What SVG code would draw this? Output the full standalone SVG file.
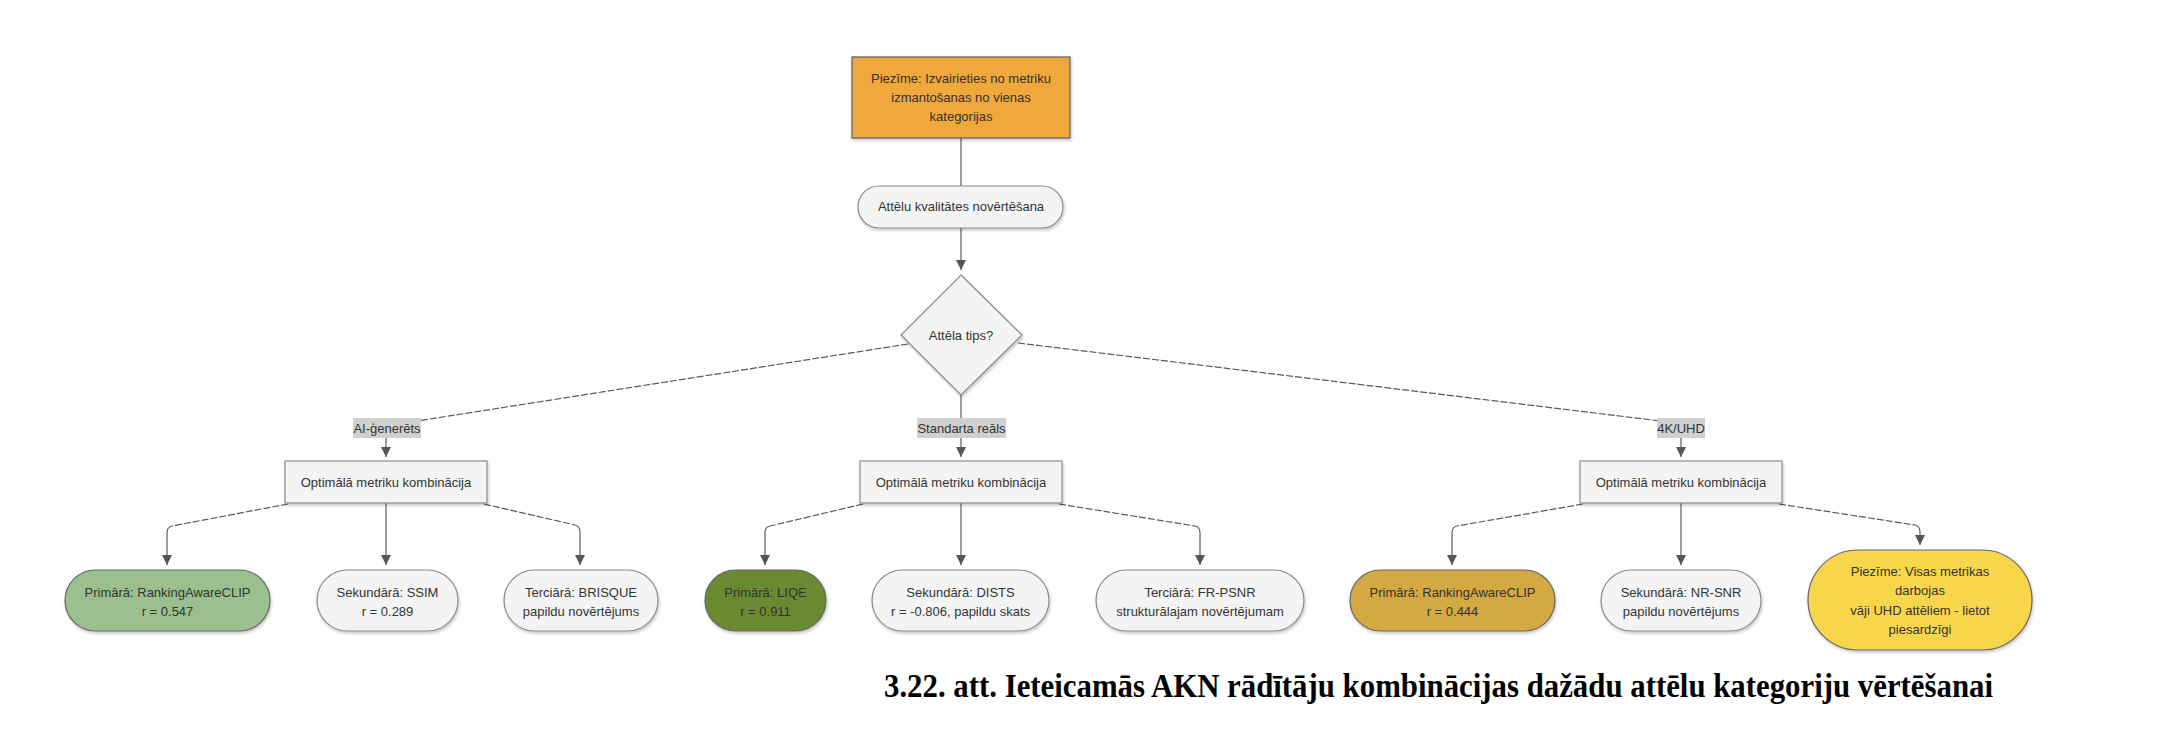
<svg xmlns="http://www.w3.org/2000/svg" width="2176" height="754" viewBox="0 0 2176 754">
<style>
  .t { font-family: "Liberation Sans", Arial, sans-serif; font-size: 13px; fill: #333; text-anchor: middle; }
  .cap { font-family: "Liberation Serif", "Times New Roman", serif; font-size: 34px; font-weight: bold; fill: #000; }
  .gray { fill: #F4F4F4; stroke: #8a8a8a; stroke-width: 1.2; }
  .lbl { fill: #D0D0D0; }
  .edge { fill: none; stroke: #5a5a5a; stroke-width: 1.2; }
  .dash { stroke-dasharray: 7 2; }
  .arr { marker-end: url(#ah); }
</style>
<defs>
  <marker id="ah" viewBox="0 0 10 10" refX="10" refY="5" markerWidth="10" markerHeight="10" markerUnits="userSpaceOnUse" orient="auto">
    <path d="M0,0 L10,5 L0,10 z" fill="#555"/>
  </marker>
  <filter id="sh" x="-10%" y="-10%" width="125%" height="135%">
    <feDropShadow dx="1" dy="2" stdDeviation="1.5" flood-color="#000" flood-opacity="0.22"/>
  </filter>
</defs>
<rect width="2176" height="754" fill="#fff"/>

<g id="connectors">
  <path class="edge" d="M961,138 L961,186" stroke="#999"/>
  <path class="edge arr" d="M961,228 L961,270"/>
  <path class="edge dash" d="M908,344 L398,424 Q386,426 386,432"/>
  <path class="edge arr" d="M386,437 L386,457"/>
  <path class="edge arr" d="M961,395 L961,457"/>
  <path class="edge dash" d="M1018,343 L1669,422 Q1681,424 1681,430"/>
  <path class="edge arr" d="M1681,437 L1681,457"/>

  <path class="edge dash" d="M288,504 L172,526"/>
  <path class="edge arr" d="M172,526 Q167,527 167,533 L167,565"/>
  <path class="edge arr" d="M386,503 L386,565"/>
  <path class="edge dash" d="M484,504 L575,525"/>
  <path class="edge arr" d="M575,525 Q580,526 580,532 L580,565"/>

  <path class="edge dash" d="M863,504 L770,526"/>
  <path class="edge arr" d="M770,526 Q765,527 765,533 L765,565"/>
  <path class="edge arr" d="M961,503 L961,565"/>
  <path class="edge dash" d="M1059,504 L1195,526"/>
  <path class="edge arr" d="M1195,526 Q1200,527 1200,533 L1200,565"/>

  <path class="edge dash" d="M1583,504 L1457,526"/>
  <path class="edge arr" d="M1457,526 Q1452,527 1452,533 L1452,565"/>
  <path class="edge arr" d="M1681,503 L1681,565"/>
  <path class="edge dash" d="M1779,504 L1915,525"/>
  <path class="edge arr" d="M1915,525 Q1920,526 1920,532 L1920,545"/>
</g>

<g id="note-top">
  <rect x="852" y="57" width="218" height="81" fill="#F0A73A" stroke="#666" stroke-width="1.3" filter="url(#sh)"/>
  <text class="t" x="961" y="83">Piezīme: Izvairieties no metriku</text>
  <text class="t" x="961" y="102">izmantošanas no vienas</text>
  <text class="t" x="961" y="121">kategorijas</text>
</g>

<g id="start">
  <rect class="gray" x="858" y="186" width="205" height="42" rx="21" filter="url(#sh)"/>
  <text class="t" x="961" y="211">Attēlu kvalitātes novērtēšana</text>
</g>

<g id="decision">
  <polygon class="gray" points="961,275 1022,335 961,395 901,335" filter="url(#sh)"/>
  <text class="t" x="961" y="339.5">Attēla tips?</text>
</g>

<g id="label-ai">
  <rect class="lbl" x="353" y="418" width="68" height="20"/>
  <text class="t" x="387" y="433">AI-ģenerēts</text>
</g>
<g id="label-std">
  <rect class="lbl" x="917" y="418" width="89" height="20"/>
  <text class="t" x="961.5" y="433">Standarta reāls</text>
</g>
<g id="label-4k">
  <rect class="lbl" x="1657" y="418" width="48" height="20"/>
  <text class="t" x="1681" y="433">4K/UHD</text>
</g>

<g id="combo-ai">
  <rect class="gray" x="285" y="461" width="202" height="42" filter="url(#sh)"/>
  <text class="t" x="386" y="486.5">Optimālā metriku kombinācija</text>
</g>
<g id="combo-std">
  <rect class="gray" x="860" y="461" width="202" height="42" filter="url(#sh)"/>
  <text class="t" x="961" y="486.5">Optimālā metriku kombinācija</text>
</g>
<g id="combo-4k">
  <rect class="gray" x="1580" y="461" width="202" height="42" filter="url(#sh)"/>
  <text class="t" x="1681" y="486.5">Optimālā metriku kombinācija</text>
</g>

<g id="ai-primary">
  <rect x="65" y="570" width="205" height="61" rx="30.5" fill="#9BBF8E" stroke="#666" stroke-width="1.2" filter="url(#sh)"/>
  <text class="t" x="167.5" y="597">Primārā: RankingAwareCLIP</text>
  <text class="t" x="167.5" y="615.5">r = 0.547</text>
</g>
<g id="ai-secondary">
  <rect class="gray" x="317" y="570" width="141" height="61" rx="30.5" filter="url(#sh)"/>
  <text class="t" x="387.5" y="597">Sekundārā: SSIM</text>
  <text class="t" x="387.5" y="615.5">r = 0.289</text>
</g>
<g id="ai-tertiary">
  <rect class="gray" x="504" y="570" width="154" height="61" rx="30.5" filter="url(#sh)"/>
  <text class="t" x="581" y="597">Terciārā: BRISQUE</text>
  <text class="t" x="581" y="615.5">papildu novērtējums</text>
</g>

<g id="std-primary">
  <rect x="705" y="570" width="121" height="61" rx="30.5" fill="#6B8A33" stroke="#666" stroke-width="1.2" filter="url(#sh)"/>
  <text class="t" x="765.5" y="597">Primārā: LIQE</text>
  <text class="t" x="765.5" y="615.5">r = 0.911</text>
</g>
<g id="std-secondary">
  <rect class="gray" x="872" y="570" width="177" height="61" rx="30.5" filter="url(#sh)"/>
  <text class="t" x="960.5" y="597">Sekundārā: DISTS</text>
  <text class="t" x="960.5" y="615.5">r = -0.806, papildu skats</text>
</g>
<g id="std-tertiary">
  <rect class="gray" x="1096" y="570" width="208" height="61" rx="30.5" filter="url(#sh)"/>
  <text class="t" x="1200" y="597">Terciārā: FR-PSNR</text>
  <text class="t" x="1200" y="615.5">strukturālajam novērtējumam</text>
</g>

<g id="uhd-primary">
  <rect x="1350" y="570" width="205" height="61" rx="30.5" fill="#D4A942" stroke="#666" stroke-width="1.2" filter="url(#sh)"/>
  <text class="t" x="1452.5" y="597">Primārā: RankingAwareCLIP</text>
  <text class="t" x="1452.5" y="615.5">r = 0.444</text>
</g>
<g id="uhd-secondary">
  <rect class="gray" x="1601" y="570" width="160" height="61" rx="30.5" filter="url(#sh)"/>
  <text class="t" x="1681" y="597">Sekundārā: NR-SNR</text>
  <text class="t" x="1681" y="615.5">papildu novērtējums</text>
</g>
<g id="uhd-note">
  <rect x="1808" y="550" width="224" height="100" rx="50" fill="#F8D64B" stroke="#666" stroke-width="1.2" filter="url(#sh)"/>
  <text class="t" x="1920" y="575.5">Piezīme: Visas metrikas</text>
  <text class="t" x="1920" y="595">darbojas</text>
  <text class="t" x="1920" y="614.5">vāji UHD attēliem - lietot</text>
  <text class="t" x="1920" y="634">piesardzīgi</text>
</g>

<g id="caption">
  <text class="cap" x="884" y="697" textLength="1109" lengthAdjust="spacingAndGlyphs">3.22. att. Ieteicamās AKN rādītāju kombinācijas dažādu attēlu kategoriju vērtēšanai</text>
</g>
</svg>
